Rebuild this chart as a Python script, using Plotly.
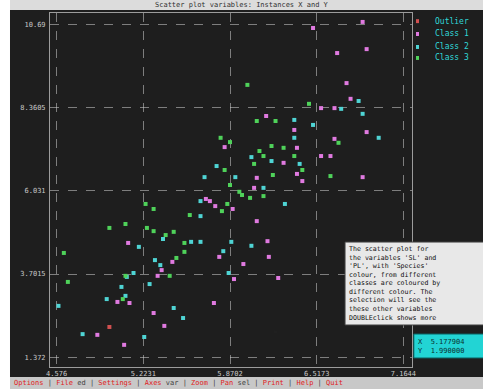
import plotly.graph_objects as go

# ---- data -------------------------------------------------------------
class1_x = [6.49, 6.86, 6.89, 6.67, 6.74, 6.77, 6.55, 6.65, 6.14, 6.35, 6.89, 6.65,
            5.83, 6.37, 6.55, 6.62, 6.27, 6.37, 6.86, 6.07, 6.41, 6.05, 5.69, 5.72,
            5.76, 5.89, 6.07, 5.11, 6.15, 5.79, 6.16, 5.44, 5.97, 5.36, 5.33, 5.90,
            6.23, 5.03, 5.12, 5.75, 5.30, 5.38, 4.88, 5.08]
class1_y = [10.58, 10.75, 9.99, 9.88, 9.04, 8.60, 8.34, 8.34, 8.12, 7.73, 7.67, 7.48,
            7.25, 7.23, 7.00, 7.00, 6.81, 6.50, 6.41, 6.39, 6.30, 6.11, 5.80, 5.74,
            5.60, 5.52, 5.18, 4.57, 4.62, 4.18, 4.18, 4.04, 3.98, 3.81, 3.65, 3.56,
            3.59, 2.92, 2.89, 2.89, 2.61, 2.25, 2.00, 1.72]

class2_x = [6.83, 6.70, 6.86, 6.35, 6.49, 6.98, 6.35, 6.03, 6.18, 6.39, 5.77, 5.68,
            5.91, 6.12, 5.65, 5.65, 6.28, 5.37, 5.58, 5.65, 5.88, 5.19, 6.03, 5.82,
            5.31, 5.35, 5.86, 5.15, 5.10, 5.27, 5.06, 5.09, 4.95, 4.59, 5.45, 5.52,
            4.77, 5.23]
class2_y = [8.54, 8.32, 8.18, 8.01, 7.87, 7.51, 7.51, 6.97, 6.86, 6.78, 6.72, 6.41,
            6.41, 6.11, 5.74, 5.32, 5.66, 4.68, 4.60, 4.60, 4.60, 4.46, 4.49, 4.34,
            4.09, 3.95, 3.73, 3.73, 3.62, 3.42, 3.34, 3.09, 3.00, 2.81, 2.75, 2.47,
            2.02, 1.94]

class3_x = [6.00, 6.46, 6.07, 6.21, 5.80, 5.87, 6.68, 6.18, 6.27, 6.09, 6.12, 6.35,
            6.05, 5.83, 6.41, 6.19, 6.62, 5.87, 5.94, 5.96, 6.02, 6.12, 5.85, 5.81,
            5.24, 5.30, 5.57, 5.09, 4.97, 5.25, 5.30, 5.45, 5.39, 5.53, 5.53, 4.63,
            5.47, 5.09, 5.42, 4.66, 5.07]
class3_y = [8.99, 8.46, 7.98, 7.98, 7.51, 7.39, 7.37, 7.28, 7.23, 7.14, 7.00, 7.00,
            6.78, 6.61, 6.61, 6.47, 6.44, 6.19, 6.00, 5.91, 5.83, 5.88, 5.66, 5.46,
            5.66, 5.52, 5.35, 5.10, 4.99, 4.99, 4.90, 4.88, 4.79, 4.57, 4.32, 4.29,
            4.15, 3.65, 3.65, 3.48, 3.00]

outlier_x = [4.97]
outlier_y = [2.22]
selected_x = [6.21]
selected_y = [2.08]

x_ticks = [4.576, 5.2231, 5.8702, 6.5173, 7.1644]
x_tick_labels = ["4.576", "5.2231", "5.8702", "6.5173", "7.1644"]
y_ticks = [1.372, 3.7015, 6.031, 8.3605, 10.69]
y_tick_labels = ["1.372", "3.7015", "6.031", "8.3605", "10.69"]

legend_names = ["Outlier", "Class 1", "Class 2", "Class 3"]
legend_colors = ["#d05050", "#e07ae0", "#4fd4d4", "#4fd25a"]
series_colors = legend_colors[1:]

MONO = "DejaVu Sans Mono"

fig = go.Figure()
for name, xs, ys, col in zip(legend_names[1:],
                             [class1_x, class2_x, class3_x],
                             [class1_y, class2_y, class3_y],
                             series_colors):
    fig.add_trace(go.Scatter(x=xs, y=ys, mode="markers", name=name, showlegend=False,
                             marker=dict(symbol="square", size=4, color=col,
                                         line=dict(width=0))))

fig.add_trace(go.Scatter(x=outlier_x, y=outlier_y, mode="markers", name=legend_names[0],
                         showlegend=False,
                         marker=dict(symbol="square", size=4, color=legend_colors[0])))
fig.add_trace(go.Scatter(x=selected_x, y=selected_y, mode="markers", showlegend=False,
                         marker=dict(symbol="square", size=3, color="#202020")))

# window chrome: dark frame, title strip, status strip
shapes = [
    dict(type="rect", xref="paper", yref="paper", x0=-0.1105, x1=1.2, y0=-0.0282, y1=1.0085,
         fillcolor="#1e1e1e", line=dict(width=0), layer="below"),
    dict(type="rect", xref="paper", yref="paper", x0=-0.1105, x1=1.2, y0=1.0085, y1=1.04,
         fillcolor="#dcdcdc", line=dict(width=0), layer="below"),
    dict(type="rect", xref="paper", yref="paper", x0=-0.1105, x1=1.2, y0=-0.0621, y1=-0.0282,
         fillcolor="#c8c8c8", line=dict(width=0), layer="below"),
    # info panel
    dict(type="rect", xref="paper", yref="paper", x0=0.815, x1=1.2, y0=0.1186, y1=0.353,
         fillcolor="#e8e8e8", line=dict(color="#404040", width=1), layer="above"),
    # cursor readout
    dict(type="rect", xref="paper", yref="paper", x0=1.005, x1=1.2, y0=0.0254, y1=0.0932,
         fillcolor="#22d4d4", line=dict(color="#0a6060", width=1), layer="above"),
]

# hand-drawn legend in the right margin
legend_rows_y = [0.977, 0.9407, 0.904, 0.873]
annotations = []
for name, col, yy in zip(legend_names, legend_colors, legend_rows_y):
    shapes.append(dict(type="rect", xref="paper", yref="paper",
                       x0=1.0110, x1=1.0193, y0=yy - 0.0056, y1=yy + 0.0056,
                       fillcolor=col, line=dict(width=0)))
    annotations.append(dict(xref="paper", yref="paper", x=1.058, y=yy, text=name,
                            showarrow=False, xanchor="left", yanchor="middle",
                            font=dict(family=MONO, size=8, color="#30d8d8")))

info_text = ("The scatter plot for<br>the variables 'SL' and<br>'PL', with 'Species'<br>"
             "colour, from different<br>classes are coloured by<br>different colour. The<br>"
             "selection will see the<br>these other variables<br>DOUBLEclick shows more")

status_parts = [("Options", "#e02020"), (" | ", "#404040"), ("File", "#e02020"), (" ed | ", "#404040"),
                ("Settings", "#e02020"), (" | ", "#404040"), ("Axes", "#e02020"), (" var | ", "#404040"),
                ("Zoom", "#e02020"), (" | ", "#404040"), ("Pan", "#e02020"), (" sel | ", "#404040"),
                ("Print", "#e02020"), (" | ", "#404040"), ("Help", "#e02020"), (" | ", "#404040"),
                ("Quit", "#e02020")]
status_html = "".join(f"<span style='color:{c}'>{t}</span>" for t, c in status_parts)

annotations += [
    dict(xref="paper", yref="paper", x=0.53, y=1.024, text="Scatter plot variables: Instances X and Y",
         showarrow=False, font=dict(family=MONO, size=7, color="#303030"), xanchor="center", yanchor="middle"),
    dict(xref="paper", yref="paper", x=0.82, y=0.351, text=info_text, align="left",
         showarrow=False, font=dict(family=MONO, size=6.6, color="#101010"), xanchor="left", yanchor="top"),
    dict(xref="paper", yref="paper", x=1.01, y=0.059, text="X  5.177904<br>Y  1.990000", align="left",
         showarrow=False, font=dict(family=MONO, size=7, color="#0a3030"), xanchor="left", yanchor="middle"),
    dict(xref="paper", yref="paper", x=-0.105, y=-0.0452, text=status_html, align="left",
         showarrow=False, font=dict(family=MONO, size=7, color="#404040"), xanchor="left", yanchor="middle"),
]

axis_common = dict(showgrid=True, gridcolor="rgba(205,205,205,0.55)", griddash="dash", gridwidth=1,
                   zeroline=False, showline=True, linecolor="#9c9c9c", linewidth=1, mirror=True,
                   ticks="", tickfont=dict(family=MONO, size=7, color="#c8c8c8"))

fig.update_layout(
    width=483, height=389,
    margin=dict(l=50, r=71, t=13, b=22, autoexpand=False),
    paper_bgcolor="#ffffff", plot_bgcolor="#808080",
    showlegend=False,
    xaxis=dict(range=[4.5267, 7.2286], tickvals=x_ticks, ticktext=x_tick_labels, ticklabelstandoff=0,
               **axis_common),
    yaxis=dict(range=[1.1007, 11.0], tickvals=y_ticks, ticktext=y_tick_labels, ticklabelstandoff=2,
               **axis_common),
    shapes=shapes, annotations=annotations,
)

fig.write_html("out.html", config={"displayModeBar": False})
